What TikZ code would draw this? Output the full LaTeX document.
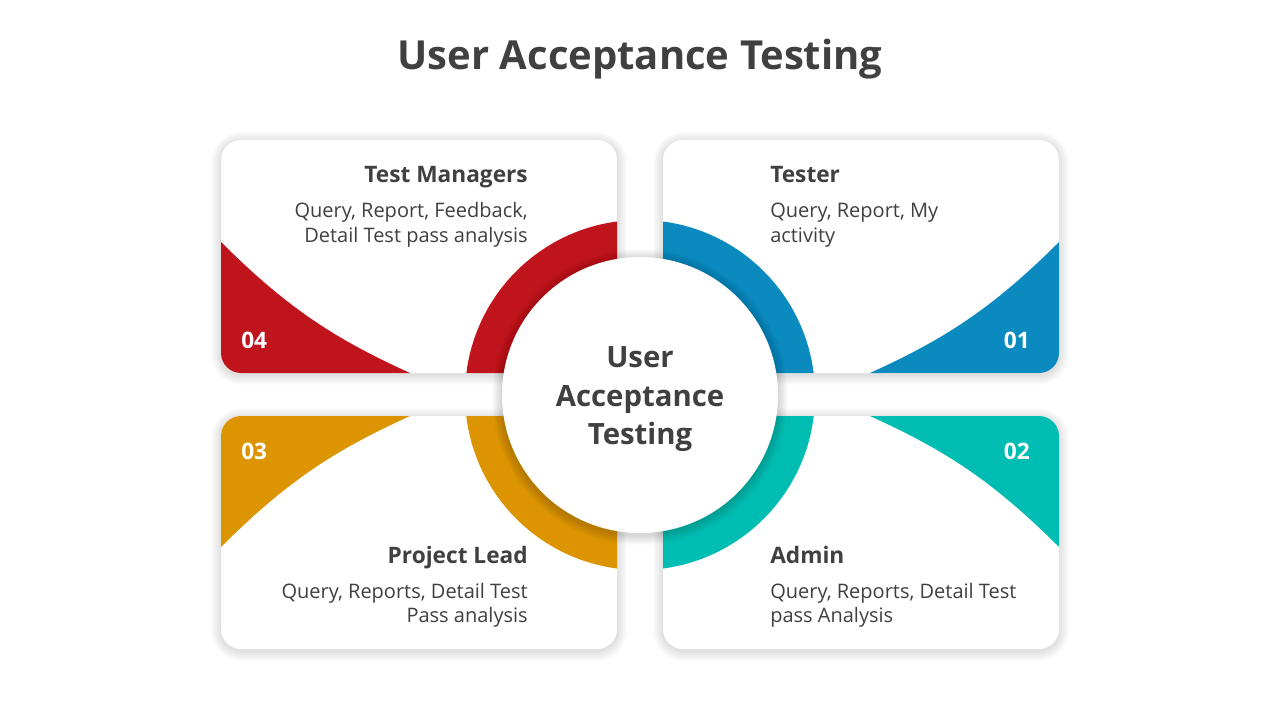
\documentclass[tikz,border=0pt]{standalone}
\usepackage{fontspec}
\setmainfont{Open Sans}
\definecolor{txt}{HTML}{404040}
\definecolor{cred}{HTML}{BF141C}
\definecolor{cblue}{HTML}{0A8ABE}
\definecolor{cteal}{HTML}{00BDB3}
\definecolor{corange}{HTML}{DC9500}
\tikzset{
  cardbox/.style={fill=white, rounded corners=15pt},
  shadowlayer/.style={fill=black, fill opacity=0.011},
  titletext/.style={inner sep=0pt, text=txt, font=\fontsize{30}{34}\selectfont\bfseries},
  headtext/.style={inner sep=0pt, text=txt, font=\fontsize{17}{20}\selectfont\bfseries},
  bodytext/.style={inner sep=0pt, text=txt, font=\fontsize{15}{18}\selectfont},
  numtext/.style={inner sep=0pt, text=white, font=\fontsize{17}{20}\selectfont\bfseries},
  centertext/.style={inner sep=0pt, text=txt, font=\fontsize{22}{26}\selectfont\bfseries},
}
\newcommand{\cardshadow}[4]{%
  \foreach \s in {1,...,10}{%
    \fill[shadowlayer, rounded corners={(15+0.75*\s)*1pt}] ({#1-\s},{#2-\s+2}) rectangle ({#3+\s},{#4+\s+2});
  }%
}
\begin{document}
\begin{tikzpicture}[x=0.75pt,y=-0.75pt]
\useasboundingbox[fill=white] (0,0) rectangle (1280,720);
\node[titletext, anchor=base] (title) at (640,70) {User Acceptance Testing};

% card shadows
\cardshadow{221}{140}{617}{373}
\cardshadow{663}{140}{1059}{373}
\cardshadow{221}{416}{617}{649}
\cardshadow{663}{416}{1059}{649}

% cards
\fill[cardbox] (221,140) rectangle (617,373);
\fill[cardbox] (663,140) rectangle (1059,373);
\fill[cardbox] (221,416) rectangle (617,649);
\fill[cardbox] (663,416) rectangle (1059,649);

\begin{scope}
\clip[rounded corners=15pt] (221,140) rectangle (617,373);
\fill[cred] (221,242) .. controls (291,312) and (340,341) .. (410,373) -- (221,373) -- cycle;
\fill[cred] (640,395) circle (175);
\end{scope}
\begin{scope}
\clip[rounded corners=15pt] (663,140) rectangle (1059,373);
\fill[cblue] (1059,242) .. controls (989,312) and (940,341) .. (870,373) -- (1059,373) -- cycle;
\fill[cblue] (640,395) circle (175);
\end{scope}
\begin{scope}
\clip[rounded corners=15pt] (221,416) rectangle (617,649);
\fill[corange] (221,547) .. controls (291,477) and (340,448) .. (410,416) -- (221,416) -- cycle;
\fill[corange] (640,395) circle (175);
\end{scope}
\begin{scope}
\clip[rounded corners=15pt] (663,416) rectangle (1059,649);
\fill[cteal] (1059,547) .. controls (989,477) and (940,448) .. (870,416) -- (1059,416) -- cycle;
\fill[cteal] (640,395) circle (175);
\end{scope}

% center circle shadow and circle
\foreach \s in {1,...,10}{\fill[shadowlayer, fill opacity=0.014] (640,397) circle ({138+\s});}
\fill[white] (640,395) circle (138);
\node[centertext, anchor=base] (c1) at (640,367) {User};
\node[centertext, anchor=base] (c2) at (640,406) {Acceptance};
\node[centertext, anchor=base] (c3) at (640,444) {Testing};

% numbers
\node[numtext, anchor=base west] (n4) at (241,348) {04};
\node[numtext, anchor=base east] (n1) at (1030,348) {01};
\node[numtext, anchor=base west] (n3) at (241,459) {03};
\node[numtext, anchor=base east] (n2) at (1030,459) {02};

% top-left
\node[headtext, anchor=base east] (h4) at (528,183) {Test Managers};
\node[bodytext, anchor=base east] (b4a) at (528,218) {Query, Report, Feedback,};
\node[bodytext, anchor=base east] (b4b) at (528,243) {Detail Test pass analysis};
% top-right
\node[headtext, anchor=base west] (h1) at (770,183) {Tester};
\node[bodytext, anchor=base west] (b1a) at (770,218) {Query, Report, My};
\node[bodytext, anchor=base west] (b1b) at (770,243) {activity};
% bottom-left
\node[headtext, anchor=base east] (h3) at (528,563) {Project Lead};
\node[bodytext, anchor=base east] (b3a) at (528,598) {Query, Reports, Detail Test};
\node[bodytext, anchor=base east] (b3b) at (528,622) {Pass analysis};
% bottom-right
\node[headtext, anchor=base west] (h2) at (770,563) {Admin};
\node[bodytext, anchor=base west] (b2a) at (770,598) {Query, Reports, Detail Test};
\node[bodytext, anchor=base west] (b2b) at (770,622) {pass Analysis};
\end{tikzpicture}
\end{document}
